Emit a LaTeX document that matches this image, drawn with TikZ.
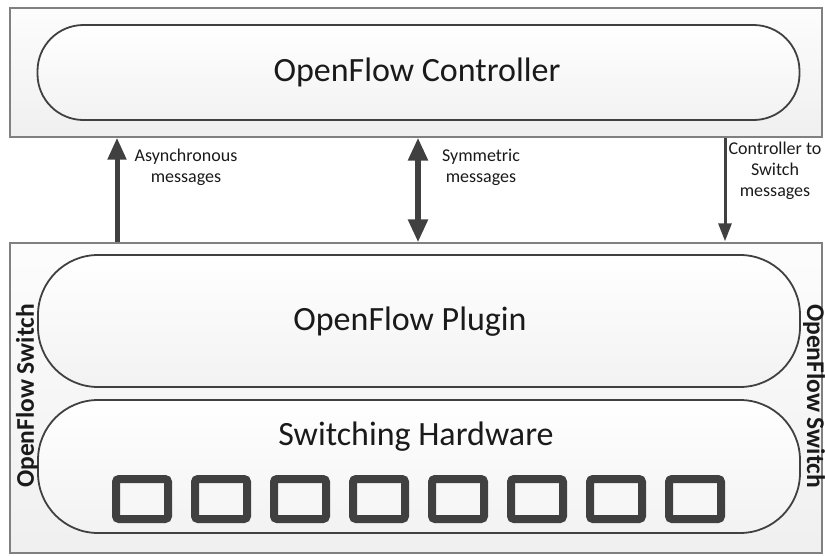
\documentclass[tikz,border=0pt]{standalone}
\usepackage{fontspec}
\setmainfont{Carlito}
\usetikzlibrary{arrows.meta,calc}
\definecolor{dk}{HTML}{404040}
\definecolor{edge}{HTML}{808080}
\definecolor{txt}{HTML}{1A1A1A}
\tikzset{
  outerbox/.style={draw=edge, line width=1.4pt, top color=gray!2, bottom color=gray!12, minimum width=812pt, inner sep=0pt},
  stadium/.style={draw=dk, line width=1.8pt, top color=white, bottom color=gray!10, inner sep=0pt, minimum width=762pt},
  bigtxt/.style={font=\fontsize{34}{40}\selectfont, text=txt},
  lbl/.style={font=\fontsize{18}{21}\selectfont, text=txt, align=center},
  sidelbl/.style={font=\bfseries\fontsize{25.5}{30}\selectfont, text=txt},
  thickarrow/.style={draw=dk, line width=5pt, -{Triangle[width=18pt,length=22pt]}},
  dblarrow/.style={draw=dk, line width=5.5pt, {Triangle[width=19pt,length=23pt]}-{Triangle[width=19pt,length=23pt]}},
  thinarrow/.style={draw=dk, line width=3pt, -{Triangle[width=13pt,length=18pt]}},
  port/.style={draw=dk, line width=8pt, fill=gray!6, rounded corners=3pt, minimum width=52pt, minimum height=40pt, inner sep=0pt},
}
\begin{document}
\begin{tikzpicture}[x=1pt,y=-1pt]
\useasboundingbox (0,0) rectangle (825,555);
% outer boxes
\node[outerbox, minimum height=129pt] (ctrlbox) at (416,72.5) {};
\node[outerbox, minimum height=310pt] (swbox) at (416,398) {};
% stadiums
\node[stadium, minimum height=95pt, rounded corners=46pt] (ctrl) at (418.5,72.5) {};
\node[bigtxt] (ctrltxt) at (417,72) {OpenFlow Controller};
\node[stadium, minimum height=132pt, rounded corners=60pt] (plugin) at (419,321) {};
\node[bigtxt] (plugintxt) at (410,322) {OpenFlow Plugin};
\node[stadium, minimum height=133pt, rounded corners=60pt] (hw) at (419,466.5) {};
\node[bigtxt] (hwtxt) at (416,437) {Switching Hardware};
% ports
\foreach \i in {0,...,7}{
  \node[port] (p\i) at ({142+79*\i},499) {};
}
% side labels
\node[sidelbl, rotate=90] (swl) at (27,396) {OpenFlow Switch};
\node[sidelbl, rotate=-90] (swr) at (814,396) {OpenFlow Switch};
% arrows
\coordinate (a1) at (117,0);
\coordinate (a2) at (418,0);
\coordinate (a3) at (725,0);
\draw[thickarrow] (a1 |- swbox.north) -- (a1 |- ctrlbox.south);
\draw[dblarrow] (a2 |- ctrlbox.south) -- (a2 |- swbox.north);
\draw[thinarrow] (a3 |- ctrlbox.south) -- ($(a3 |- swbox.north)+(0,-1)$);
% labels
\node[lbl] (l1) at (186,167) {Asynchronous\\messages};
\node[lbl] (l2) at (481,167) {Symmetric\\messages};
\node[lbl] (l3) at (775,171) {Controller to\\Switch\\messages};
\end{tikzpicture}
\end{document}
